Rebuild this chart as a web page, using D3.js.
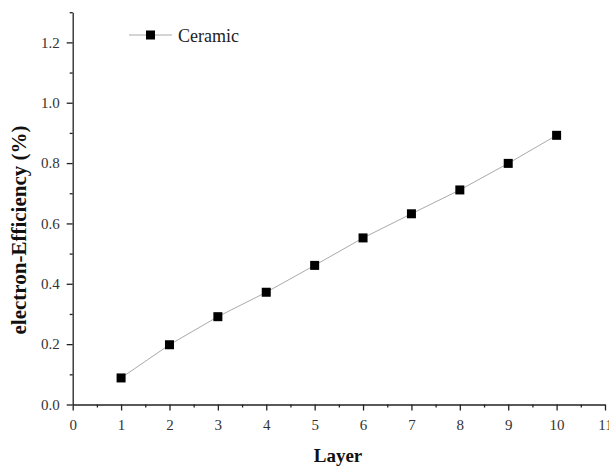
<!DOCTYPE html>
<html>
<head>
<meta charset="utf-8">
<script src="https://cdn.jsdelivr.net/npm/d3@7"></script>
<style>
  body { margin: 0; background: #fff; }
  .axis path, .axis line { stroke: #222; }
</style>
</head>
<body>
<script>
let w = 609;
let h = 467;
let serif = '"Times New Roman", "Liberation Serif", Tinos, "DejaVu Serif", serif';

// data
let layers = [1, 2, 3, 4, 5, 6, 7, 8, 9, 10];
let efficiency = [0.088, 0.198, 0.291, 0.372, 0.461, 0.552, 0.632, 0.711, 0.799, 0.892];
let seriesName = 'Ceramic';
let xTicks = [0, 1, 2, 3, 4, 5, 6, 7, 8, 9, 10, 11];
let yTicks = [0.0, 0.2, 0.4, 0.6, 0.8, 1.0, 1.2];

let dataset = layers.map((d, i) => [d, efficiency[i]]);

let xScale = d3.scaleLinear()
  .domain([0, 11])
  .range([72.7, 605]);

let yScale = d3.scaleLinear()
  .domain([0, 1.3])
  .range([404.5, 12.2]);

let svg = d3.select('body')
  .append('svg')
  .attr('width', w)
  .attr('height', h);

// minor ticks
svg.append('g')
  .attr('class', 'x axis minor')
  .attr('transform', 'translate(0, ' + yScale(0) + ')')
  .call(d3.axisBottom(xScale)
    .tickValues(d3.range(0.5, 11, 1))
    .tickSize(3)
    .tickFormat(''))
  .call(g => g.select('.domain').remove());

svg.append('g')
  .attr('class', 'y axis minor')
  .attr('transform', 'translate(' + xScale(0) + ', 0)')
  .call(d3.axisLeft(yScale)
    .tickValues([0.1, 0.3, 0.5, 0.7, 0.9, 1.1, 1.3])
    .tickSize(3)
    .tickFormat(''))
  .call(g => g.select('.domain').remove());

// major axes
let xAxis = d3.axisBottom(xScale)
  .tickValues(xTicks)
  .tickSize(6)
  .tickPadding(9)
  .tickSizeOuter(0)
  .tickFormat(d3.format('d'));

let yAxis = d3.axisLeft(yScale)
  .tickValues(yTicks)
  .tickSize(6)
  .tickPadding(7)
  .tickSizeOuter(0)
  .tickFormat(d3.format('.1f'));

svg.append('g')
  .attr('class', 'x axis')
  .attr('transform', 'translate(0, ' + yScale(0) + ')')
  .attr('font-family', serif)
  .attr('font-size', 15)
  .call(xAxis);

svg.append('g')
  .attr('class', 'y axis')
  .attr('transform', 'translate(' + xScale(0) + ', 0)')
  .attr('font-family', serif)
  .attr('font-size', 15)
  .call(yAxis);

svg.selectAll('.axis path, .axis line').attr('stroke-width', 1.3);
svg.selectAll('.axis text')
  .attr('font-family', serif)
  .attr('font-size', 15)
  .attr('fill', '#333');

// series line
let line = d3.line()
  .x((d) => { return xScale(d[0]); })
  .y((d) => { return yScale(d[1]); });

svg.append('path')
  .datum(dataset)
  .attr('d', line)
  .attr('fill', 'none')
  .attr('stroke', '#aaa')
  .attr('stroke-width', 1);

let ms = 9;
svg.append('g')
  .selectAll('rect')
  .data(dataset)
  .enter()
  .append('rect')
  .attr('x', (d) => { return xScale(d[0]) - ms / 2; })
  .attr('y', (d) => { return yScale(d[1]) - ms / 2; })
  .attr('width', ms)
  .attr('height', ms)
  .attr('fill', '#000');

// legend
let legend = svg.append('g')
  .attr('transform', 'translate(129, 35)');

legend.append('line')
  .attr('x1', 0)
  .attr('x2', 43)
  .attr('y1', 0)
  .attr('y2', 0)
  .attr('stroke', '#aaa')
  .attr('stroke-width', 1);

legend.append('rect')
  .attr('x', 21.5 - ms / 2)
  .attr('y', -ms / 2)
  .attr('width', ms)
  .attr('height', ms)
  .attr('fill', '#000');

legend.append('text')
  .attr('x', 49)
  .attr('y', 6.5)
  .attr('font-family', serif)
  .attr('font-size', 18)
  .attr('fill', '#222')
  .text(seriesName);

// axis titles
svg.append('text')
  .attr('x', 338)
  .attr('y', 462)
  .attr('text-anchor', 'middle')
  .attr('font-family', serif)
  .attr('font-size', 19)
  .attr('font-weight', 'bold')
  .attr('fill', '#111')
  .text('Layer');

svg.append('text')
  .attr('transform', 'translate(26, 230) rotate(-90)')
  .attr('text-anchor', 'middle')
  .attr('font-family', serif)
  .attr('font-size', 21)
  .attr('font-weight', 'bold')
  .attr('fill', '#111')
  .text('electron-Efficiency (%)');
</script>
</body>
</html>
